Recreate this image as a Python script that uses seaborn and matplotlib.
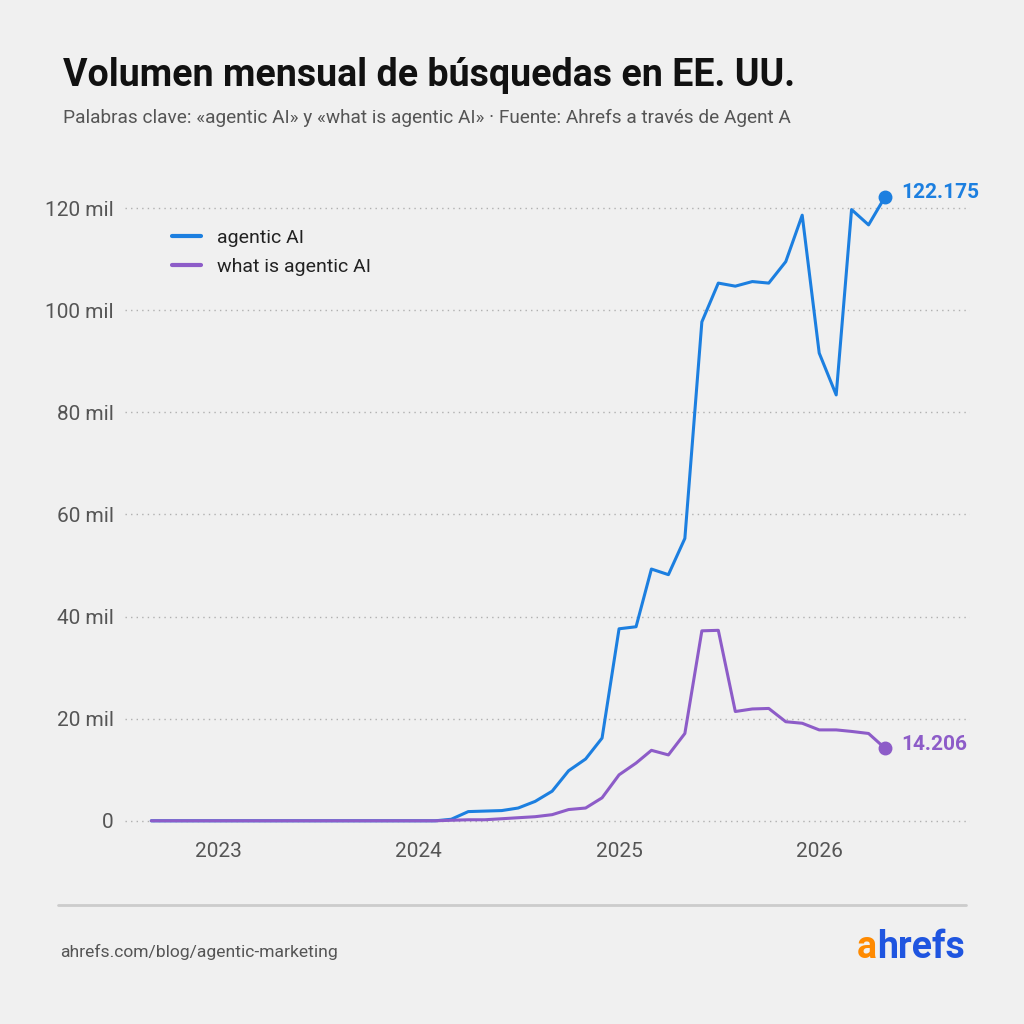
import matplotlib
matplotlib.use("Agg")
import matplotlib.pyplot as plt
import matplotlib.ticker as mticker
import numpy as np
import pandas as pd
import seaborn as sns

# --- Data (monthly US search volume) ---
months = pd.date_range("2022-09-01", "2026-05-01", freq="MS")

agentic_ai = [
    0, 0, 0, 0, 0, 0, 0, 0, 0, 0, 0, 0, 0, 0, 0, 0, 0, 0,          # Sep 2022 - Feb 2024
    300, 1800, 1900, 2000, 2500, 3800, 5800, 9800, 12100, 16200,   # Mar - Dec 2024
    37600, 38000, 49300, 48200, 55300, 97700, 105300, 104700,      # Jan - Aug 2025
    105600, 105300, 109500, 118600,                                # Sep - Dec 2025
    91600, 83400, 119700, 116700, 122175,                          # Jan - May 2026
]
what_is_agentic_ai = [
    0, 0, 0, 0, 0, 0, 0, 0, 0, 0, 0, 0, 0, 0, 0, 0, 0, 0,
    100, 200, 200, 400, 600, 800, 1200, 2200, 2500, 4500,
    9000, 11300, 13800, 12900, 17100, 37200, 37300, 21400,
    21900, 22000, 19400, 19100,
    17800, 17800, 17500, 17100, 14206,
]

series_names = ["agentic AI", "what is agentic AI"]
series_colors = ["#1c7fe0", "#8d5cc8"]
y_ticks = [0, 20000, 40000, 60000, 80000, 100000, 120000]
year_ticks = ["2023-01-01", "2024-01-01", "2025-01-01", "2026-01-01"]

title = "Volumen mensual de búsquedas en EE. UU."
subtitle = "Palabras clave: «agentic AI» y «what is agentic AI» · Fuente: Ahrefs a través de Agent A"
source = "ahrefs.com/blog/agentic-marketing"

df = pd.DataFrame({
    "month": list(months) * 2,
    "volume": agentic_ai + what_is_agentic_ai,
    "keyword": [series_names[0]] * len(months) + [series_names[1]] * len(months),
})

# --- Style ---
bg = "#f0f0f0"
sns.set_theme(style="white", rc={"figure.facecolor": bg, "axes.facecolor": bg})
plt.rcParams["font.family"] = ["Roboto", "DejaVu Sans"]

fig = plt.figure(figsize=(10.24, 10.24), dpi=100)
ax = fig.add_axes([125 / 1024, 1 - 831 / 1024, 845 / 1024, 648.5 / 1024])

sns.lineplot(data=df, x="month", y="volume", hue="keyword",
             palette=dict(zip(series_names, series_colors)),
             linewidth=2.2, ax=ax)

# end dots and labels
for vals, col in zip([agentic_ai, what_is_agentic_ai], series_colors):
    ax.plot(months[-1], vals[-1], "o", color=col, markersize=9, zorder=5)
    ax.annotate(f"{vals[-1]:,}".replace(",", "."), (months[-1], vals[-1]),
                xytext=(12, 3), textcoords="offset points", va="center",
                color=col, fontsize=15, fontweight="bold")

ax.set_ylim(-2000, 125000)
ax.set_xlim(pd.Timestamp("2022-07-15"), pd.Timestamp("2026-10-03"))
ax.set_yticks(y_ticks)
ax.yaxis.set_major_formatter(mticker.FuncFormatter(
    lambda v, p: "0" if v == 0 else f"{v / 1000:.0f} mil"))
ax.set_xticks(pd.to_datetime(year_ticks))
ax.set_xticklabels([d[:4] for d in year_ticks])
ax.tick_params(axis="both", length=0, labelsize=15, colors="#555555", pad=8)
ax.grid(axis="y", linestyle=(0, (1, 3)), color="#b0b0b0", linewidth=1)
ax.set_xlabel("")
ax.set_ylabel("")
for s in ax.spines.values():
    s.set_visible(False)

leg = ax.legend(loc="upper left", bbox_to_anchor=(0.035, 0.955), frameon=False,
                fontsize=14, handlelength=1.5, handletextpad=0.8, labelspacing=0.55)
for t in leg.get_texts():
    t.set_color("#222222")
for h in leg.legend_handles:
    h.set_linewidth(3)

# --- Titles and footer ---
fig.text(63 / 1024, 1 - 76 / 1024, title, fontsize=27, fontweight="bold",
         color="#111111", va="center")
fig.text(63 / 1024, 1 - 118 / 1024, subtitle, fontsize=13.7, color="#555555", va="center")

fig.add_artist(plt.Line2D([58 / 1024, 966 / 1024], [1 - 905 / 1024] * 2,
                          color="#cccccc", linewidth=2))
fig.text(60 / 1024, 1 - 952 / 1024, source, fontsize=12.6, color="#555555", va="center")

logo = fig.text(965 / 1024, 1 - 947 / 1024, "hrefs", fontsize=27, fontweight="bold",
                color="#1f55e0", ha="right", va="center")
fig.canvas.draw()
bb = logo.get_window_extent()
fig.text(bb.x0 / fig.bbox.width, 1 - 947 / 1024, "a", fontsize=27, fontweight="bold",
         color="#ff8a00", ha="right", va="center")

plt.savefig("out.png", dpi=100, facecolor=bg)
plt.close(fig)
